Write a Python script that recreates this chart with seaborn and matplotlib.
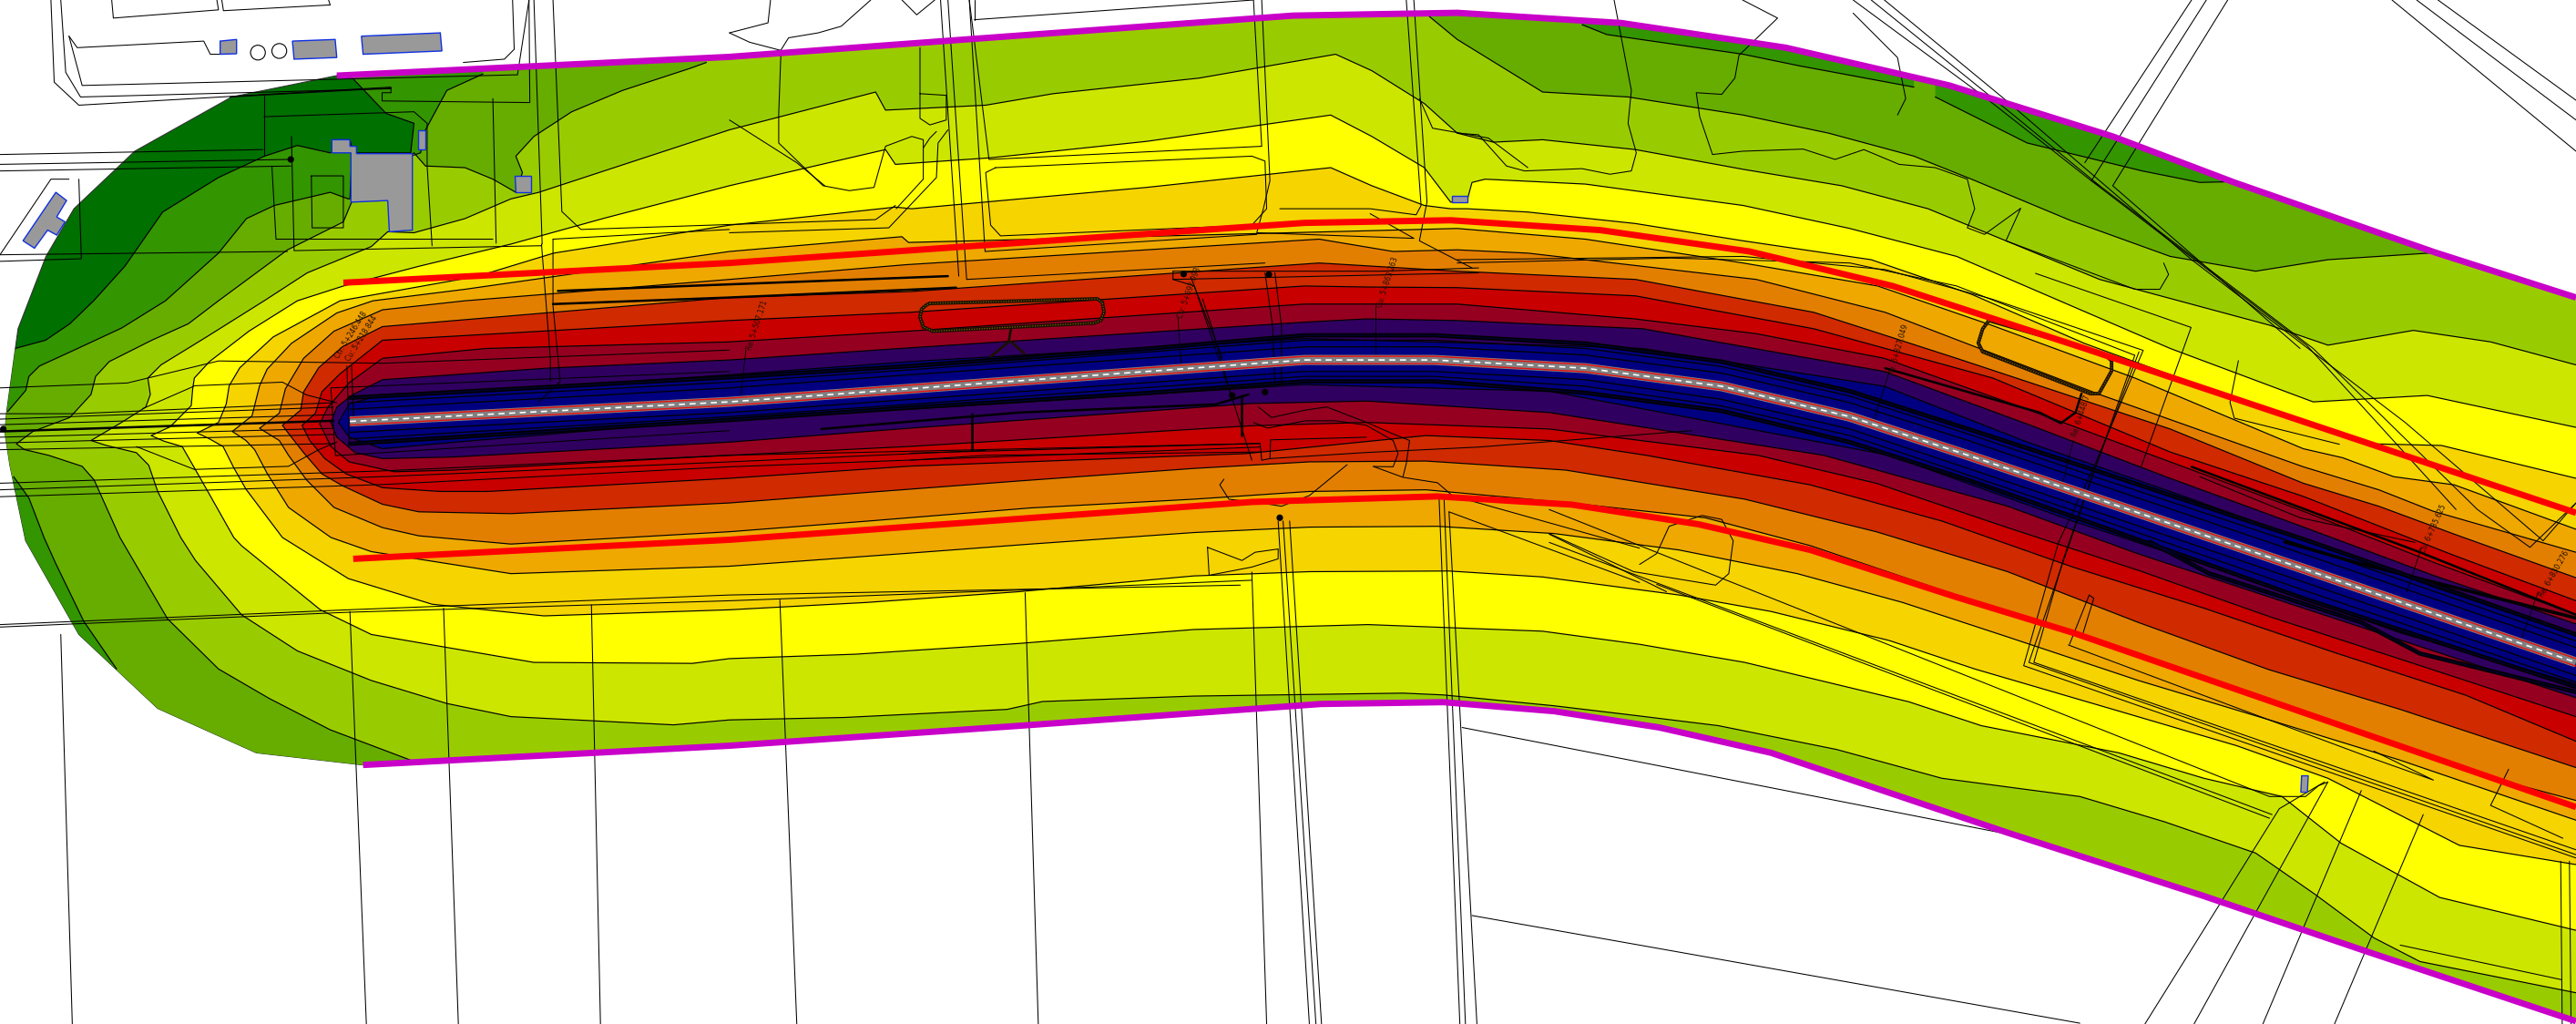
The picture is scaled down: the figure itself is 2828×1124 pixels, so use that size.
import matplotlib
matplotlib.use("Agg")
import matplotlib.pyplot as plt
from matplotlib.patches import Polygon, Circle
import seaborn as sns

# Noise contour bands, outermost (quiet) to innermost (loud)
band_colors = ["#007000", "#339500", "#66AD00", "#99CC00", "#CCE600", "#FFFF00", "#F5D400",
               "#EEA800", "#E37F00", "#D02A00", "#C80000", "#960020", "#300060", "#000080"]

hull = [(205, 46), (444, 34.6), (596, 23.4), (787, 9.5), (887, 7.8), (987, 14), (1087, 29), (1186.6, 52),
        (1286, 83), (1360, 111), (1482, 153.5), (1568, 181), (1600, 200), (1600, 640), (1568, 621.3),
        (1441, 579), (1341, 545), (1222, 506.6), (1078, 458), (1010, 442.6), (946, 432.7), (878.7, 427.2),
        (804, 428.3), (620, 441.6), (444, 453.7), (221, 465.4), (156, 458), (96, 431), (48, 386), (15.6, 329),
        (6, 283), (3, 263), (4, 251), (11, 200), (28, 156), (45, 127), (82, 92), (141, 59)]

# Contour lines between the bands
edge_1 = [(215, 48), (235, 69), (252, 75), (250, 93), (215, 93), (213, 85), (201, 93), (181, 88.5), (161, 95), (133, 108),
          (99, 129), (76, 162), (57, 183), (42.5, 197), (27.7, 207), (9.2, 212)]
edge_2_top = [(294, 45), (272, 55), (259, 79), (256, 93), (250, 95), (214, 100), (213, 121), (212, 121), (201, 117), (167, 125),
              (150, 133), (133, 154), (113, 172), (100.7, 183), (74, 199.6), (46, 212.6), (24, 222.7), (17.6, 229),
              (15.7, 237.5), (4.6, 250.5)]
edge_2_low = [(8.3, 290), (17.6, 303), (26.8, 327), (34, 343), (51, 378), (71, 407)]
edge_3 = [(430, 38), (420, 41.6), (379, 55), (348, 68), (325, 83), (314, 95), (318, 105), (314, 117), (300, 109),
          (283, 102), (259, 101), (252, 93), (214, 123), (209, 135), (175, 152), (133, 183), (114.6, 197), (92.4, 207),
          (66.5, 220), (58.2, 229), (55.4, 240), (42.5, 254), (20, 262.5), (10, 270), (14.8, 273.5), (29.6, 277), (50, 283.7),
          (57.3, 292), (73, 327), (102, 376.5), (133, 407), (164, 425), (201, 444), (250, 462.5)]
edge_3_right = [(1486, 153.5), (1417, 158), (1373, 165), (1321, 156), (1260, 134), (1200, 109), (1165, 95), (1113, 81),
                (1061, 70), (991, 59), (939, 56), (887, 24), (870, 10)]
edge_4 = [(1568, 222), (1516, 208), (1469, 201), (1417, 210), (1382, 198), (1278, 170), (1221, 146.5), (1173.6, 127),
          (1121, 113), (1061, 103), (995.5, 91), (939, 85), (909, 86.5), (887, 81), (867, 63), (835, 43), (813, 33),
          (730, 47.5), (641, 57), (600, 64), (539, 67), (533, 56), (444, 79), (328, 117), (311, 121), (283, 133),
          (252, 141.6), (236, 141), (226, 150), (187, 166), (160.8, 183), (125.7, 205), (98, 222), (90, 230), (91.5, 240),
          (88.7, 247.7), (74, 257), (55.4, 268), (64.7, 271), (83, 275.4), (90.5, 283), (96, 299), (110, 327), (119, 341),
          (147, 374), (181, 396), (226, 414), (272, 428), (311, 436), (410, 441), (444, 438), (514, 436.5), (613, 431.6),
          (634.6, 426.8), (726.6, 423.5), (854, 421.7), (878.7, 422.8), (946, 429.4), (998, 435.6), (1046, 441.5), (1118, 456),
          (1182, 473.5), (1266, 484.6), (1317.6, 500), (1373, 519), (1409, 544), (1445, 570.6), (1473, 585), (1568, 604)]
edge_5 = [(1568, 260), (1477.5, 240.6), (1408, 244.5), (1321, 212), (1256, 184), (1191, 156), (1126, 139), (1061, 125),
          (965, 112), (904, 109), (896, 111), (893, 122), (883, 123), (867, 102), (835, 83), (810, 70), (698, 86),
          (603, 96), (545, 100), (539, 91), (444, 113), (368, 132.7), (311, 148.5), (255, 162), (209, 174), (181, 183),
          (151.5, 201.5), (127.5, 220), (118.3, 230), (117.3, 236.6), (116.4, 246.8), (103.5, 259.7), (92, 265), (99.8, 268.4),
          (110.9, 271.7), (118.3, 284.6), (125.7, 297.6), (142.3, 327), (147, 332), (195, 371), (226, 386), (325, 403),
          (421.5, 403.6), (444, 400.7), (521, 398), (620, 391.5), (726.6, 383), (832.7, 380), (938.8, 384), (998, 392),
          (1062, 403), (1162, 427), (1206, 441.5), (1289.6, 458), (1341.5, 473.5), (1389, 484.6), (1425, 513), (1485, 546),
          (1568, 566)]
edge_6 = [(1568, 291), (1486, 271), (1443, 270), (1321, 228), (1269, 209), (1200, 179), (1139, 158), (1061, 146.5),
          (995.5, 136), (930, 129), (893, 127), (883, 127), (867, 125), (835, 113), (810, 102), (698, 114), (555, 127),
          (545, 126), (444, 137), (337, 154), (291, 168), (207, 183), (166.3, 205), (146, 223.7), (139.5, 234.7), (137.7, 245.8),
          (133, 257), (120, 263.4), (127.5, 267), (135.8, 271.7), (142.3, 284.6), (149.7, 297.6), (171.9, 327), (212, 352),
          (263, 367.6), (331, 374.7), (444, 371), (528, 366.5), (620, 360), (726.6, 350.4), (797, 347.8), (882, 347.4),
          (938.8, 351), (1022, 362), (1078, 372), (1150, 389.7), (1202, 407), (1290, 432.7), (1361.5, 453.7), (1417, 473.5),
          (1497, 514.3), (1568, 526)]
edge_7 = [(1568, 322), (1494, 295), (1457, 290), (1426, 278.5), (1402, 273), (1299.5, 230), (1212.6, 198), (1143, 174),
          (1061, 160), (965, 145.5), (887, 139), (553, 147.5), (549, 144), (444, 153), (283, 176), (227, 183), (205, 190.4),
          (177.4, 208.9), (162.6, 224.6), (158, 234.7), (153.4, 253), (141.4, 262.5), (149.7, 268), (155, 273.6), (162.6, 288),
          (175.6, 308.7), (201.4, 327), (226, 335.6), (311, 349), (444, 344.5), (550, 336.8), (627.5, 331), (726.6, 324),
          (797, 320.7), (875, 320.2), (946, 324.6), (1022, 334.6), (1094, 349), (1158, 366.5), (1222, 387.5), (1301.6, 414),
          (1381.4, 438), (1461, 462.5), (1568, 499)]
edge_8 = [(1568, 336), (1481, 311), (1448, 298), (1402, 284), (1278, 240), (1147.5, 190), (1069, 170), (930, 154),
          (887, 152), (848, 153), (803, 145.5), (552, 161), (444, 170), (283, 183), (232.8, 188.5), (203.3, 201.5), (184.8, 218),
          (173.7, 236.6), (170, 251.4), (158, 260.6), (170, 268), (175.6, 277), (186.6, 292), (203.3, 308.7), (232.8, 321),
          (255, 326), (311, 331), (444, 323.5), (528.5, 317), (627.5, 309), (726.6, 303.7), (797, 299), (868, 298), (956, 306),
          (1038, 315), (1102, 332), (1182, 359), (1261.7, 385), (1341.5, 411.8), (1421, 440.4), (1501, 469), (1568, 487)]
edge_9 = [(1568, 351.5), (1494, 325), (1448, 308), (1402, 294), (1321, 261), (1191, 218), (1104, 190), (995.5, 170),
          (887, 165), (803, 160), (554, 177.4), (444, 181), (232.8, 198.7), (208.8, 210.7), (194, 223.7), (184.8, 238.4),
          (183, 249.5), (171.9, 258.8), (177.4, 266), (184.8, 275.4), (195.9, 288.3), (208.8, 295.7), (232.8, 306.8),
          (255, 311.4), (311, 312.5), (444, 306), (535.6, 299), (620.5, 292.6), (726.6, 285), (797, 281), (868, 280.5),
          (953, 286), (1062, 303.7), (1142, 323.5), (1222, 347.8), (1301.6, 378.7), (1381, 407.4), (1461, 431.6), (1568, 467)]
edge_10 = [(1568, 365.5), (1494, 338), (1402, 302), (1321, 275), (1213, 230), (1104, 200), (995.5, 180), (887, 175),
           (832, 174.6), (794, 174), (554, 190), (444, 195), (232.8, 207), (207, 227.4), (195.9, 238.4), (192, 251.4),
           (183.9, 258.8), (188.5, 268), (197.7, 279), (210.7, 288.3), (232.8, 296.7), (268, 299), (297, 299), (444, 291),
           (554, 283.6), (758, 276), (868, 265), (943, 268), (1002, 277), (1102, 295), (1182, 317), (1261.7, 345),
           (1341.5, 370), (1421, 397), (1501, 423), (1568, 451)]
edge_11 = [(1568, 374), (1481, 342), (1402, 311), (1321, 281), (1234, 249), (1147, 218), (1069, 203), (995, 194), (887, 185),
           (794, 185), (554, 201.4), (444, 208), (296, 212), (232.8, 218), (212.5, 232.9), (199.6, 247.7), (194.6, 257.8),
           (201.4, 271.7), (212.5, 281), (240, 287), (277, 286), (444, 277), (554, 271.6), (762, 259), (832, 257), (943, 261),
           (1070, 277), (1142, 294), (1222, 321), (1301.6, 347), (1381, 375), (1461, 401), (1568, 436)]
edge_12 = [(1568, 379.6), (1481, 350), (1402, 320.6), (1321, 291), (1234, 258), (1147, 226), (1000, 200), (887, 195), (832, 194),
           (794, 196), (554, 211.6), (444, 219), (332.6, 224), (232.8, 231), (214.4, 240.3), (205, 247.7), (201.4, 257), (205, 266),
           (216.2, 275.4), (232.8, 279), (277, 278), (444, 269), (554, 260.5), (762, 245.5), (832, 244), (943, 251), (1110, 277),
           (1222, 308), (1301.6, 337), (1402, 370), (1568, 424.5)]
edge_13 = [(1568, 386.6), (1481, 357), (1402, 328), (1321, 299), (1234, 269), (1147, 235), (1000, 212), (943, 210), (794, 206),
           (554, 220), (444, 228), (332.6, 235.5), (232.8, 240), (212.5, 245.8), (206, 257), (212.5, 266), (232.8, 273), (277, 269),
           (444, 255), (554, 249), (794, 234), (943, 238), (1150, 277), (1261.7, 317), (1381.4, 356.6), (1461, 385), (1568, 416)]
inner_edges = [edge_4, edge_5, edge_6, edge_7, edge_8, edge_9, edge_10, edge_11, edge_12, edge_13]

sliver_a = [(963, 15), (978, 21), (1061, 33), (1095, 40), (1165, 53), (1165, 40), (963, 5)]
sliver_b = [(1178, 59), (1234, 87), (1304, 104), (1339, 111), (1360, 110.5), (1360, 95), (1178, 40)]

# Road, ditches, limit lines
road = [(213, 256.4), (444, 244.5), (554, 236.5), (794, 219), (873, 219), (965, 224), (1048, 235), (1126, 253.5),
        (1198, 277), (1278, 304), (1402, 346), (1568, 403)]
road_red_top = [(213, 254.2), (444, 242.3), (554, 234.3), (794, 216.8), (873, 216.8), (965, 221.8), (1048, 232.8), (1126, 251.3),
                (1198, 274.7), (1278, 301.7), (1402, 343.7), (1568, 400.7)]
road_red_low = [(213, 258.6), (444, 246.7), (554, 238.7), (794, 221.2), (873, 221.2), (965, 226.2), (1048, 237.2), (1126, 255.7),
                (1198, 279.3), (1278, 306.3), (1402, 348.3), (1568, 405.3)]
ditch_top = [(213, 242), (444, 229.5), (554, 222.7), (700, 212), (794, 204), (873, 204), (965, 209), (1048, 220), (1126, 238),
             (1198, 261), (1278, 287), (1402, 328), (1568, 386)]
ditch_low = [(213, 270), (444, 255.5), (554, 248), (700, 239), (794, 232), (873, 232), (965, 239), (1048, 250), (1126, 269),
             (1198, 292), (1278, 320), (1402, 364), (1568, 418)]
verge_top = [(213, 249), (444, 236), (554, 228), (794, 211), (873, 211), (965, 216), (1048, 227), (1126, 245), (1198, 268),
             (1278, 295), (1402, 337), (1568, 394)]
verge_low = [(213, 263), (444, 251), (554, 243), (794, 226), (873, 226), (965, 231), (1048, 243), (1126, 261), (1198, 285),
             (1278, 312), (1402, 354), (1568, 411)]
shoulder_top = [(213, 245), (444, 232.5), (554, 225), (794, 207), (873, 207), (965, 212), (1048, 223), (1126, 241), (1198, 264),
                (1278, 291), (1402, 332), (1568, 390)]
shoulder_low = [(213, 267), (444, 253.5), (554, 246), (794, 229), (873, 229), (965, 235), (1048, 247), (1126, 265), (1198, 289),
                (1278, 316), (1402, 359), (1568, 415)]
berm_top = [(1390.8, 329.7), (1434.6, 342.4), (1568, 376)]
berm_low = [(1308.5, 329.7), (1344.5, 348.8), (1437, 378.5), (1473, 397.6), (1568, 421)]
limit_top = [(209, 172), (444, 160), (794, 135.6), (883, 134), (974, 140), (1065, 153), (1152, 174), (1269, 212), (1568, 312)]
limit_low = [(215, 340), (444, 328.4), (762, 305.4), (875, 302), (956.6, 307), (1034, 319), (1102, 334.6), (1190, 363),
             (1262, 385), (1568, 491)]
study_top = [(205, 46), (444, 34.6), (596, 23.4), (787, 9.5), (887, 7.8), (987, 14), (1087, 29), (1186.6, 52), (1286, 83),
             (1360, 111), (1482, 153.5), (1568, 181)]
study_low = [(221, 465.4), (444, 453.7), (620, 441.6), (804, 428.3), (878.7, 427.2), (946, 432.7), (1010, 442.6), (1078, 458),
             (1222, 506.6), (1341, 545), (1441, 579), (1568, 621.3)]

# Buildings
buildings = [
    [(134, 25), (144, 24), (144, 32.7), (134, 33)],
    [(178, 25), (204, 24), (205, 35), (179, 36)],
    [(220, 22), (268, 20), (269, 31), (221, 33)],
    [(202, 85), (213, 85), (213, 89), (217, 89), (217, 93.5), (251, 93.5), (251, 140), (237, 141), (236, 122), (213.6, 123),
     (213.6, 93), (202, 93)],
    [(254.6, 79), (259, 79), (259, 91), (254.6, 91)],
    [(313.5, 107), (323, 107), (323, 117), (314, 117)],
    [(34, 117), (40.5, 122), (34.5, 132), (39.6, 135), (34.5, 143), (29, 140), (21, 151), (14, 146.5)],
    [(884, 119), (893, 119), (893, 123), (884, 123)],
    [(1401, 472), (1405, 472), (1404.5, 482), (1400.5, 482)],
]

# Base map linework
base_lines = [
    [(31, 0), (33, 50), (48, 64), (238, 53)],
    [(37, 0), (40, 44), (49, 59), (238, 54)],
    [(42, 22), (50, 52), (315, 45.5), (322, 0)],
    [(42, 22), (47, 29), (124, 25), (128, 33), (134, 33)],
    [(68, 0), (69, 11), (133, 6), (132, 0)],
    [(135, 0), (136, 6.5), (201, 3), (200, 0)],
    [(282, 38), (307, 36), (313, 30), (312, 0)],
    [(140, 59), (238, 53.5), (238, 56.4), (232.6, 56.4), (232.6, 61.4), (322.5, 62.4), (322, 0)],
    [(325, 0), (330, 148.5)],
    [(336.6, 0), (342, 128.7), (353.6, 139.6), (444, 136.6), (533, 133.6), (545, 125)],
    [(0, 94), (160, 91)],
    [(0, 100), (176, 97)],
    [(0, 104), (177, 101)],
    [(161, 58.4), (161, 95)],
    [(177.4, 83), (179, 152.5), (329.6, 149.5)],
    [(160.7, 71), (252, 68), (260, 75), (260, 101), (263, 149.5)],
    [(165.5, 101), (168, 145.5), (300, 145.5)],
    [(189.5, 107), (209, 107), (209, 138.6), (190, 138.6), (189.5, 107)],
    [(300, 60), (302, 148)],
    [(0, 159), (49.5, 157.4), (48, 109)],
    [(42, 109), (31, 109), (0, 155)],
    [(0, 155), (175, 153)],
    [(336.6, 145.5), (444, 139.6)],
    [(336.6, 145.5), (336.6, 186), (341, 232), (328, 244.5)],
    [(329.6, 148.5), (335, 218), (335, 232)],
    [(444, 141.6), (541, 138.6), (570, 108), (571, 87), (577, 79)],
    [(0, 236), (77.6, 233), (133, 219.6), (232.8, 221), (444, 213)],
    [(0, 251.7), (46, 251.7), (203, 245)],
    [(0, 255), (203, 247.7)],
    [(0, 258.4), (203, 252.3)],
    [(0, 266), (203, 260.6)],
    [(0, 269.5), (203, 264.3)],
    [(0, 273.6), (203, 269.9)],
    [(83, 271.7), (118.3, 285.6), (175.6, 283.7), (194, 273.6), (205, 269)],
    [(86.9, 248.6), (116.4, 235.7), (118.3, 234.7), (171.9, 232.5), (186.6, 240.3), (205, 245)],
    [(201.4, 236), (204.2, 277.2), (444, 262)],
    [(201.4, 236), (444, 226)],
    [(211.2, 222.7), (212.5, 269.9)],
    [(214, 222.7), (215.3, 255)],
    [(0, 294), (232.8, 286.5), (444, 277), (767, 269.8)],
    [(0, 298), (232.8, 290), (444, 281), (600, 274)],
    [(0, 302.2), (232.8, 294.8), (444, 284), (767, 272)],
    [(0, 380), (212, 371), (444, 362), (755, 356)],
    [(0, 381.5), (212, 372.5), (444, 365.5), (620, 359), (762, 353)],
    [(37, 386), (44, 623)],
    [(213, 372), (223, 623)],
    [(270, 370), (279, 623)],
    [(360, 368), (365.5, 623)],
    [(474.7, 365), (485, 623)],
    [(624, 360.6), (632, 623)],
    [(762, 348), (771, 623)],
    [(778, 317), (797, 623)],
    [(781, 317), (801, 623)],
    [(785, 317), (804.4, 623)],
    [(876, 304), (888.6, 623)],
    [(879, 304), (892, 623)],
    [(882, 311.4), (899, 623)],
    [(890, 442.6), (998, 463.6), (1230, 509)],
    [(896, 557), (998, 575), (1266, 622.5)],
    [(735, 333), (736, 350), (762, 345), (778, 340), (778, 334), (764, 336), (756, 341), (735, 333)],
    # middle of the top edge
    [(572.5, 0), (583.6, 168)],
    [(577, 0), (588.4, 170), (770, 160)],
    [(590, 0), (599.6, 153), (765, 142.6)],
    [(593, 12), (763, 0)],
    [(593, 0), (593, 12)],
    [(763, 0), (768, 89), (602, 97), (590, 0)],
    [(606, 102), (762, 95), (770, 98), (771, 127), (762, 137), (609, 143.5), (603, 137), (600, 105), (606, 102)],
    [(768, 0), (773, 110), (769, 127), (765, 141.6), (860.6, 145), (834, 130)],
    [(779, 127), (834, 127), (862, 130.7), (865, 125), (856, 0)],
    [(860.6, 0), (868.6, 122.8), (864, 146.5), (896, 163)],
    [(444, 20), (456.3, 25.7), (475.4, 30.7), (474, 69), (474, 87), (501, 113), (517, 116), (532, 114), (539, 89), (555, 83),
     (562, 85), (562, 109), (545.5, 127)],
    [(469, 0), (467.5, 13.9), (444, 20)],
    [(475, 31), (480, 23), (498, 20), (512, 16), (530, 0)],
    [(549, 0), (558, 9), (569, 0)],
    [(444, 73), (485, 99), (502, 113)],
    [(560, 57), (576, 58), (576, 73), (566, 76), (560, 72), (560, 29)],
    [(570, 80), (566, 84), (562, 90)],
    [(982.5, 0), (993, 55), (991, 75), (996, 93), (993, 104), (980, 106), (963, 102.6), (928, 104), (917, 101), (900, 82), (887, 81)],
    [(1060.7, 0), (1082, 11), (1058.5, 33.7), (1056, 47.5), (1048, 57.4), (1032.5, 56.4), (1034.6, 71), (1042.4, 94), (1060.7, 92),
     (1097.6, 90.7), (1117, 97), (1134.5, 91), (1156, 100), (1178, 102), (1197.5, 109), (1202, 127), (1197.5, 138.6), (1208, 142.6),
     (1230, 126.7), (1221, 146.5), (1299.5, 176), (1314.7, 176), (1320, 167), (1317, 160)],
    [(864, 60), (872, 78), (906, 84), (930, 102)],
    [(1128, 8), (1155, 35), (1160, 60), (1155, 70)],
    [(1147, 0), (1221, 61), (1334, 158), (1464, 257), (1548, 329), (1568, 306)],
    [(1139, 0), (1217, 63), (1278, 113), (1408, 212), (1508, 310), (1540, 333), (1568, 306)],
    [(1128, 0), (1208, 59), (1273, 110), (1404, 210), (1495, 310)],
    [(1334, 0), (1269, 99)],
    [(1343, 0), (1273, 110), (1278, 113)],
    [(1356, 0), (1286, 113), (1400, 212)],
    [(1456, 0), (1568, 92)],
    [(1471, 0), (1568, 73)],
    [(1484, 0), (1568, 61)],
    [(1239, 166.3), (1333.7, 199.2), (1303.3, 284)],
    [(1362.5, 219.4), (1357.4, 244.8), (1360, 254.4), (1424, 270.3)],
    [(1339, 290), (1400, 315), (1470, 330)],
    # roads that pass under the highway
    [(887, 158), (1061, 156), (1147.5, 164), (1212.6, 182), (1304, 213)],
    [(887, 160), (1017, 157), (1126, 160), (1191, 174), (1299, 216)],
    [(714, 165), (840, 165), (900, 163)],
    [(714, 165), (714, 170), (727, 174), (749, 239.6)],
    [(714, 170), (900, 166)],
    [(725, 169), (744, 218)],
    [(770, 166), (774.6, 198), (776, 233.7)],
    [(776, 166), (780, 198), (780, 233)],
    [(732, 182), (738, 200), (748, 236), (762, 280)],
    [(554, 275.7), (767, 269.8), (768, 280), (773, 279), (773.4, 267.6), (831.6, 266)],
    [(554, 280), (600, 277), (767, 275)],
    [(773, 279), (831.6, 275.3), (900, 272), (1030, 262)],
    [(766, 247.6), (774, 254), (794.6, 249.5), (807.6, 247.6), (831.6, 256.9), (848, 264), (858, 268), (856, 282), (854, 290)],
    [(763, 257), (771.5, 260.5), (794.6, 256), (813, 256), (831.6, 258.7), (848, 268), (851, 276), (848, 284), (836, 283.8)],
    [(820, 282.7), (797, 301.5), (780, 308), (774, 307), (748, 303.7), (742.5, 295), (745, 291.5)],
    [(836, 283.8), (854, 290.4), (875, 293.7), (884, 301.5), (998, 333.5)],
    [(882, 311.4), (998, 354.4)],
    [(943, 325), (1014.4, 360)],
    [(998, 343.4), (1008.4, 336.8), (1016, 320.2), (1036, 313.6), (1048, 316), (1055, 329), (1052.3, 349), (1044.3, 356),
     (994.4, 347.8), (943, 324.6)],
    [(1008.4, 355.5), (1381.4, 497.8)],
    [(943, 330), (1383, 495.6)],
    [(943, 310), (1381.4, 484.6), (1403.4, 484.6), (1411.3, 478), (1417, 475.8)],
    [(1304.6, 213), (1275, 283), (1253, 330), (1231.8, 405), (1568, 522)],
    [(1299.5, 216), (1272.4, 293.6), (1252, 353), (1235, 403), (1568, 520)],
    [(1302, 214), (1274, 288), (1256, 340), (1238, 403), (1568, 517)],
    [(1259, 392.4), (1441, 460.3), (1481.2, 474.6), (1445, 457)],
    [(1259.7, 392), (1271.7, 362), (1274.5, 364), (1268, 385)],
    [(1305.6, 623), (1387.4, 492), (1415, 475.7)],
    [(1335.5, 623), (1417, 475.7)],
    [(1377.4, 623), (1437.3, 481)],
    [(1421, 623), (1475, 495.6)],
    [(1461, 575), (1559, 596)],
    [(1558.7, 524), (1559.6, 623)],
    [(1564, 524), (1565, 623)],
    [(1527, 468), (1516, 490), (1560, 510)],
]

thick_lines = [
    [(339.6, 177), (444, 173), (577, 168)],
    [(336.6, 185), (444, 181), (582, 175)],
    [(0, 262.5), (203, 256)],
    [(591.6, 251.5), (591.6, 274)],
    [(755.5, 240.6), (755.5, 265)],
    [(1147.5, 224), (1241.5, 251), (1254.4, 257.5), (1263.4, 251), (1267, 239.5)],
    [(1334, 284), (1473, 336), (1568, 374)],
    [(500, 261), (620, 251), (740, 246), (760, 240)],
]
pond_a = [(566, 184.6), (668, 181.8), (671, 184), (672, 190), (670, 195), (666, 196.5), (568, 201.5), (562, 199), (560, 193),
          (561, 188), (564, 185.5), (566, 184.6)]
pond_b = [(1210.6, 195), (1280, 215), (1285.3, 219.4), (1285.3, 225.7), (1277.6, 239.5), (1272.4, 239.5), (1206.8, 214),
          (1204.2, 208.7), (1206.8, 200.2), (1210.6, 195)]
pond_stems = [[(615.5, 199), (614, 208), (603, 217)], [(615.5, 208), (623.4, 215)]]

# Station labels
label_text = ["Re: 5+507.171", "Ctr: 5+692.093", "Cu: 5+863.263", "Re: 6+327.049", "Re: 6+448.7", "Cu: 6+735.625",
              "Re: 6+830.276", "Ctr: 5+246.448", "Cu: 5+218.844"]
label_x = [461, 724, 845, 1156, 1267, 1481, 1555, 214, 220]
label_y = [198, 178, 172, 213, 253, 322, 349, 204, 206]
label_rot = [72, 70, 72, 74, 72, 66, 60, 58, 58]
leaders = [[(454, 213), (451, 240)], [(717, 193), (719, 222)], [(837, 186), (837, 218)], [(1150, 226), (1140, 258)],
           [(1262, 268), (1254, 300)], [(1474, 333), (1465, 360)], [(1545, 360), (1535, 388)]]

dots = [(177, 97), (2, 261), (720.5, 166.7), (772.4, 167), (750, 240.6), (770, 238.6), (779, 315)]


def line(ax, pts, color="black", lw=0.8, clip=None, zorder=3, **kw):
    sns.lineplot(x=[p[0] for p in pts], y=[p[1] for p in pts], sort=False, estimator=None, errorbar=None,
                 color=color, linewidth=lw, legend=False, ax=ax, zorder=zorder, **kw)
    if clip is not None:
        ax.lines[-1].set_clip_path(clip)


def main():
    sns.set_theme(style="white")
    palette = sns.color_palette(band_colors)
    fig = plt.figure(figsize=(28.28, 11.24), dpi=100)
    ax = fig.add_axes([0, 0, 1, 1])

    # Bands, painted from the outside in and cut to the study area
    hull_patch = Polygon(hull, closed=True, facecolor=palette[0], edgecolor="#333333", linewidth=0.8, zorder=1)
    ax.add_patch(hull_patch)
    outer_fills = [
        edge_1 + [(-10, 212), (-10, 640), (1600, 640), (1600, -10), (215, -10)],
        edge_2_top + [(-10, 250), (-10, 290)] + edge_2_low + [(71, 640), (1600, 640), (1600, -10), (294, -10)],
        edge_3 + [(250, 640), (1600, 640), (1600, 153.5)] + edge_3_right + [(870, -10), (430, -10)],
    ]
    for i, pts in enumerate(outer_fills):
        poly = ax.fill([p[0] for p in pts], [p[1] for p in pts], color=palette[i + 1], linewidth=0, zorder=1.1 + i / 10)[0]
        poly.set_clip_path(hull_patch)
    for pts in (sliver_a, sliver_b):
        poly = ax.fill([p[0] for p in pts], [p[1] for p in pts], color=palette[1], linewidth=0, zorder=1.35)[0]
        poly.set_clip_path(hull_patch)
    for i, pts in enumerate(inner_edges):
        poly = ax.fill([p[0] for p in pts] + [1600, 1600], [p[1] for p in pts] + [pts[-1][1], pts[0][1]],
                       color=palette[i + 4], linewidth=0, zorder=1.5 + i / 100)[0]
        poly.set_clip_path(hull_patch)

    for pts in [edge_1, edge_2_top, edge_2_low, edge_3, edge_3_right, sliver_a[:5], sliver_b[:5]] + inner_edges:
        line(ax, pts, lw=0.85, clip=hull_patch, zorder=2)

    # Base map
    for pts in base_lines:
        line(ax, pts, lw=0.75)
    for pts in thick_lines:
        line(ax, pts, lw=1.8)

    # Embankment hatching either side of the road
    for pts in (ditch_top, ditch_low, berm_low):
        line(ax, pts, lw=3.4, zorder=3.1)
        line(ax, pts, color="#000060", lw=1.0, zorder=3.2, linestyle=(0, (1, 1)))
    line(ax, berm_top, lw=2.6, zorder=3.1)
    for pts in (verge_top, verge_low, shoulder_top, shoulder_low):
        line(ax, pts, lw=0.9, zorder=3.1)

    # Ponds
    for pts in (pond_a, pond_b):
        line(ax, pts, color="#1a1000", lw=2.8, zorder=3.3)
        line(ax, pts, color="#9a7000", lw=0.8, zorder=3.4, linestyle=(0, (1, 1.5)))
    for pts in pond_stems:
        line(ax, pts, color="#1a1000", lw=2.0, zorder=3.3)

    for pts in buildings:
        ax.add_patch(Polygon(pts, closed=True, facecolor="#999999", edgecolor="#1030E0", linewidth=1.0, zorder=4))
    for cx in ((157, 32), (170, 31)):
        ax.add_patch(Circle(cx, 4.5, fill=False, edgecolor="black", linewidth=0.8, zorder=4))
    for cx in dots:
        ax.add_patch(Circle(cx, 1.6, color="black", zorder=4))

    # Road
    line(ax, road, color="#808080", lw=8.0, zorder=5, solid_capstyle="butt")
    line(ax, road_red_top, color="#E81010", lw=1.0, zorder=5.1)
    line(ax, road_red_low, color="#E81010", lw=1.0, zorder=5.1)
    line(ax, road, color="white", lw=1.2, zorder=5.2, linestyle=(0, (4, 3)))

    # Limits
    for pts in (limit_top, limit_low):
        line(ax, pts, color="#FF0000", lw=5.0, zorder=6, solid_capstyle="butt")
    for pts in (study_top, study_low):
        line(ax, pts, color="#C800C8", lw=5.0, zorder=6, solid_capstyle="butt")

    for pts in leaders:
        line(ax, pts, lw=0.6, zorder=4)
    for txt, x, y, rot in zip(label_text, label_x, label_y, label_rot):
        ax.text(x, y, txt, rotation=rot, fontsize=5.5, color="#201000", ha="center", va="center",
                rotation_mode="anchor", zorder=4.5)

    ax.set_xlim(0, 1568)
    ax.set_ylim(623, 0)
    ax.axis("off")
    fig.savefig("out.png", dpi=100, facecolor="white")
    plt.close(fig)


if __name__ == "__main__":
    main()
